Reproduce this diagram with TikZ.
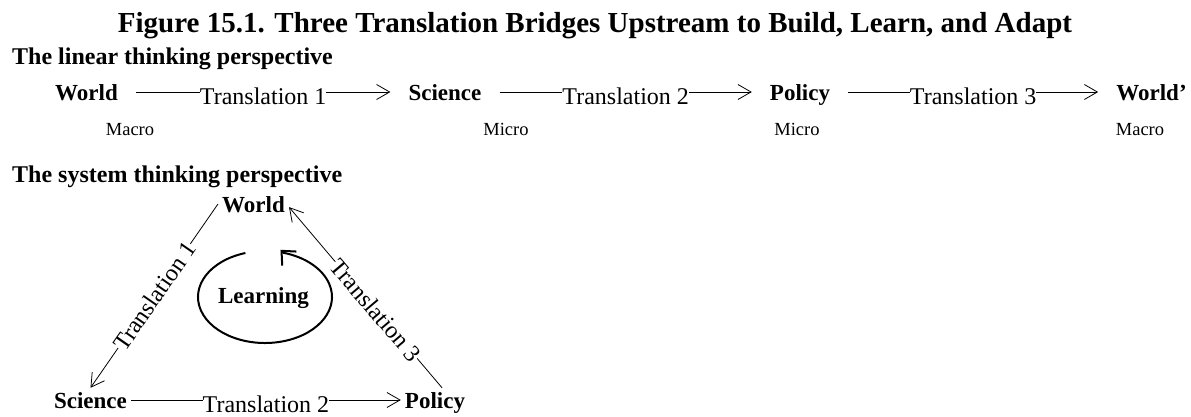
\documentclass[tikz,border=0pt]{standalone}
\usepackage{fontspec}
\setmainfont{Liberation Serif}
\usetikzlibrary{arrows.meta,positioning}
\tikzset{
  title style/.style={font=\fontsize{29}{33}\selectfont\bfseries, anchor=base, inner sep=0pt},
  head style/.style={font=\fontsize{24}{28}\selectfont\bfseries, anchor=base west, inner sep=0pt},
  stage style/.style={font=\fontsize{23}{27}\selectfont\bfseries, anchor=base,
    text height=16pt, text depth=0pt, inner xsep=18pt, inner ysep=4pt},
  corner style/.style={stage style, inner sep=4pt},
  tag style/.style={font=\fontsize{18.5}{22}\selectfont, anchor=base, inner sep=0pt},
  tr style/.style={font=\fontsize{24}{28}\selectfont, fill=white, inner sep=0pt,
    text height=25pt, text depth=0pt},
  slope style/.style={tr style, sloped, text height=17pt},
  arr style/.style={-{Straight Barb[length=13pt, width=15pt]}, line width=0.8pt},
  loop style/.style={-{Straight Barb[length=11pt, width=20pt]}, line width=2pt}
}
\begin{document}
\begin{tikzpicture}[x=1pt, y=1pt]

\fill[white] (0,0) rectangle (1191,416);
\useasboundingbox (0,0) rectangle (1191,416);

\node[title style] (title) at (595,383)
  {Figure 15.1. Three Translation Bridges Upstream to Build, Learn, and Adapt};

\node[head style] (lin) at (12,352) {The linear thinking perspective};

\node[stage style] (w1) at (86.5,316) {World};
\node[stage style] (s1) at (445,316) {Science};
\node[stage style] (p1) at (800,316) {Policy};
\node[stage style] (w2) at (1151.5,316) {World’};

\draw[arr style] (w1) -- node[tr style] (t1) {Translation 1} (s1);
\draw[arr style] (s1) -- node[tr style] (t2) {Translation 2} (p1);
\draw[arr style] (p1) -- node[tr style] (t3) {Translation 3} (w2);

\node[tag style] (m1) at (130,281) {Macro};
\node[tag style] (m2) at (506,281) {Micro};
\node[tag style] (m3) at (797,281) {Micro};
\node[tag style] (m4) at (1140,281) {Macro};

\node[head style] (sys) at (12,234) {The system thinking perspective};

\node[corner style] (tw) at (253.5,204) {World};
\node[corner style] (ts) at (90.5,8) {Science};
\node[corner style] (tp) at (435,8) {Policy};

\draw[arr style] (tw.west) -- node[slope style] (t4) {Translation 1} (ts.north);
\draw[arr style] (ts) -- node[tr style] (t5) {Translation 2} (tp);
\draw[arr style] (tp.60) -- node[slope style, pos=0.43] (t6) {Translation 3} (tw.-5);

\node[stage style, inner sep=0pt] (learn) at (263.5,113) {Learning};
\coordinate (loopc) at (265,119);
\draw[loop style] (loopc) ++(107:67pt and 46pt)
  arc[start angle=107, end angle=434, x radius=67pt, y radius=46pt] -- ++(-3,3);

\end{tikzpicture}
\end{document}
